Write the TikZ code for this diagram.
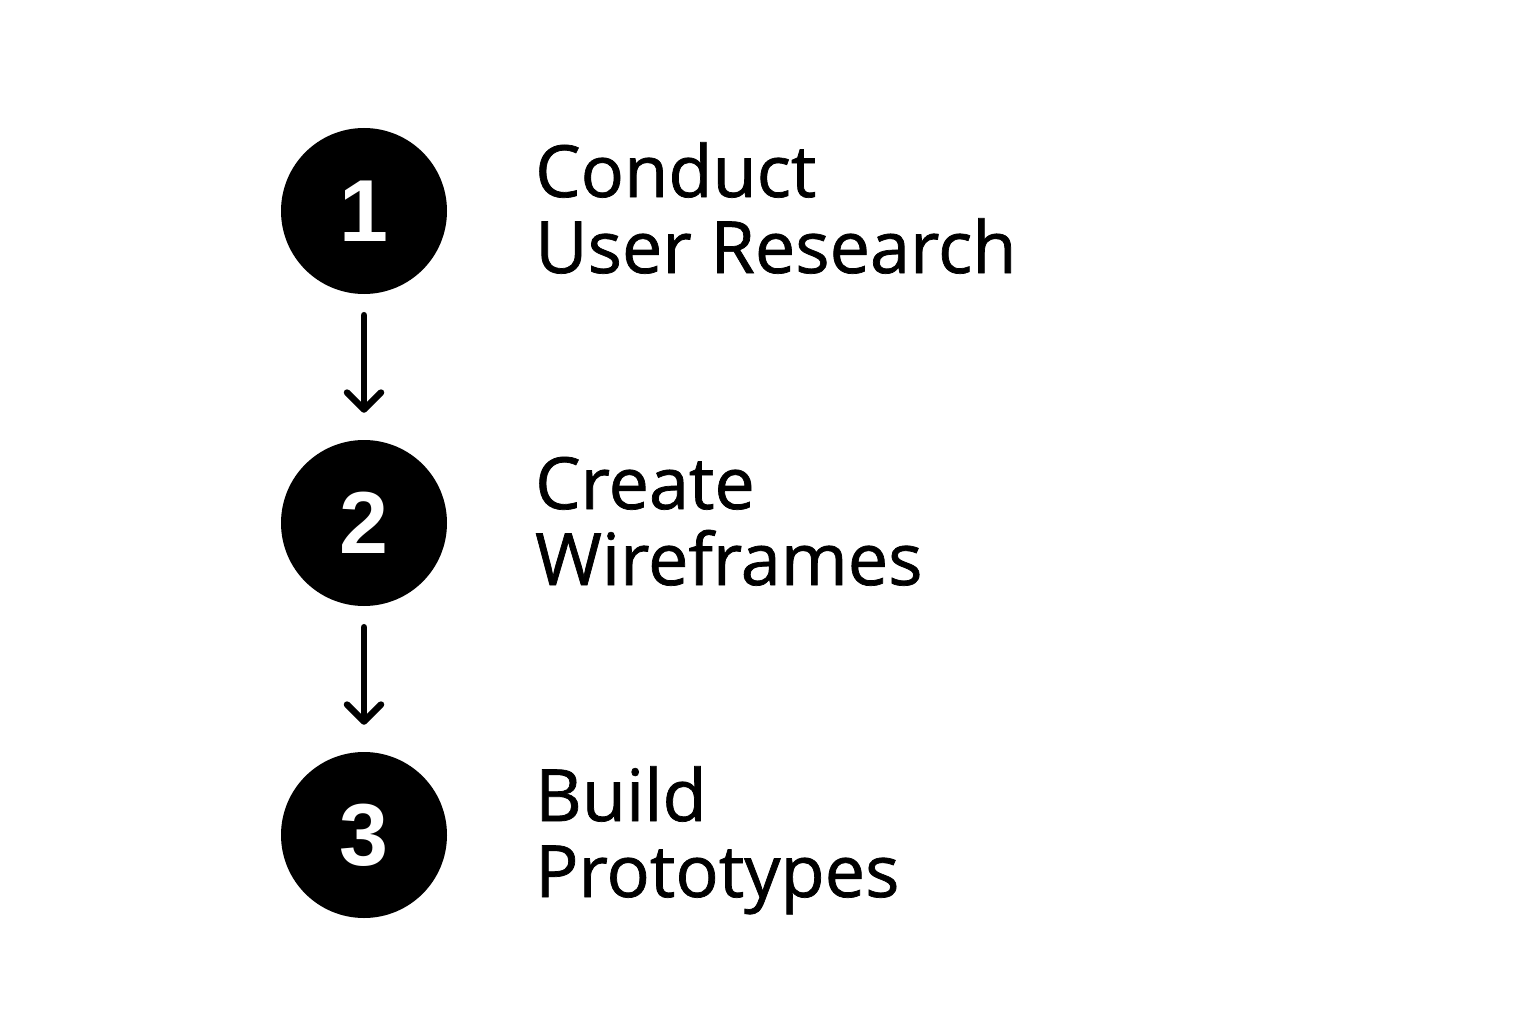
\documentclass[tikz,border=0pt]{standalone}
\usepackage{fontspec}
\setmainfont{Liberation Sans}
\newfontfamily\labelfont[FakeBold=1]{Open Sans}
\usetikzlibrary{arrows.meta}
\begin{document}
\begin{tikzpicture}[x=1pt,y=-1pt,
  stepcircle/.style={circle,fill=black,minimum size=166pt,inner sep=0pt,text=white,font=\fontsize{88}{88}\selectfont\bfseries},
  steplabel/.style={anchor=base west,inner sep=0pt,align=left,font=\labelfont\fontsize{72}{76}\selectfont},
  flowarrow/.style={line width=6.5pt,line cap=round,shorten <=21pt,shorten >=27pt,
    -{Straight Barb[length=17pt,width=34pt,line width=6.5pt,round]}}]
\useasboundingbox[fill=white] (0,0) rectangle (1536,1024);
\node[stepcircle] (c1) at (364,211) {1};
\node[stepcircle] (c2) at (364,523) {2};
\node[stepcircle] (c3) at (364,835) {3};
\node[steplabel] (t1) at (535,273) {Conduct\\User Research};
\node[steplabel] (t2) at (535,585) {Create\\Wireframes};
\node[steplabel] (t3) at (535,897) {Build\\Prototypes};
\draw[flowarrow] (c1) -- (c2);
\draw[flowarrow] (c2) -- (c3);
\end{tikzpicture}
\end{document}
